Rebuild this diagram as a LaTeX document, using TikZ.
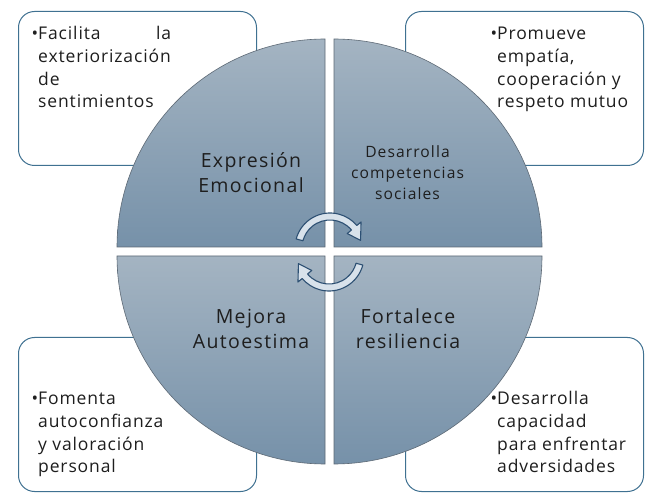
\documentclass[tikz,border=0pt]{standalone}
\usepackage{fontspec}
\setmainfont{Open Sans}[LetterSpace=5]
\newfontfamily\labfont{Open Sans}[LetterSpace=7]
\definecolor{boxline}{HTML}{3F7191}
\definecolor{quadtop}{HTML}{A4B4C2}
\definecolor{quadbot}{HTML}{7691A9}
\definecolor{quadline}{HTML}{5D6975}
\definecolor{arrline}{HTML}{2D5073}
\definecolor{arrfill}{HTML}{D8E2EB}
\definecolor{txt}{HTML}{1E1E1E}
\begin{document}
\begin{tikzpicture}[x=1pt,y=1pt,
  infobox/.style={draw=boxline, fill=white, line width=1pt, rounded corners=16pt,
    minimum width=238pt, minimum height=154pt, anchor=south west, inner sep=0pt},
  quadsty/.style={draw=quadline, line width=0.6pt, top color=quadtop, bottom color=quadbot},
  cyc/.style={draw=arrline, line width=1.1pt, fill=arrfill, line join=round},
  boxtext/.style={anchor=base west, inner sep=0pt, text=txt, font=\fontsize{17.5}{22.6}\selectfont},
  qlabel/.style={anchor=base, inner sep=0pt, text=txt, font=\labfont\fontsize{19.5}{25}\selectfont}
]
\useasboundingbox (0,0) rectangle (672,501);
\fill[white] (0,0) rectangle (672,501);
% boxes
\node[infobox] (b1) at (18,335) {};
\node[infobox] (b2) at (405,335) {};
\node[infobox] (b3) at (18,9) {};
\node[infobox] (b4) at (405,9) {};
% quadrants
\path[quadsty] (325,254) -- (117,254) arc[start angle=180,end angle=90,radius=208] -- cycle;
\path[quadsty] (334,254) -- (334,462) arc[start angle=90,end angle=0,radius=208] -- cycle;
\path[quadsty] (325,245) -- (117,245) arc[start angle=180,end angle=270,radius=208] -- cycle;
\path[quadsty] (334,245) -- (542,245) arc[start angle=0,end angle=-90,radius=208] -- cycle;
% cycle arrows
\path[cyc, shift={(330,253)}] (165:35) arc[start angle=165,end angle=40,radius=35]
  -- (40:40.5) -- (14:31.5) -- (40:22.5) -- (40:28) arc[start angle=40,end angle=165,radius=28] -- cycle;
\path[cyc, shift={(329,245)}, rotate=180] (165:35) arc[start angle=165,end angle=40,radius=35]
  -- (40:40.5) -- (14:31.5) -- (40:22.5) -- (40:28) arc[start angle=40,end angle=165,radius=28] -- cycle;
% box texts
\node[boxtext] (t1) at (38,461) {\parbox[t]{133pt}{\raggedright\leavevmode\llap{•}Facilita\hfill la\\exteriorización\\de\\sentimientos}};
\node[boxtext] (t2) at (497,461) {\parbox[t]{150pt}{\raggedright\leavevmode\llap{•}Promueve\\empatía,\\cooperación y\\respeto mutuo}};
\node[boxtext] (t3) at (38,96) {\parbox[t]{150pt}{\raggedright\leavevmode\llap{•}Fomenta\\autoconfianza\\y valoración\\personal}};
\node[boxtext] (t4) at (497,96) {\parbox[t]{150pt}{\raggedright\leavevmode\llap{•}Desarrolla\\capacidad\\para enfrentar\\adversidades}};
% quadrant labels
\node[qlabel] (q1) at (251,333) {\parbox[t]{180pt}{\centering Expresión\\Emocional}};
\node[qlabel, font=\labfont\fontsize{15.6}{21}\selectfont] (q2) at (407.5,343) {\parbox[t]{180pt}{\centering Desarrolla\\competencias\\sociales}};
\node[qlabel] (q3) at (251,177) {\parbox[t]{180pt}{\centering Mejora\\Autoestima}};
\node[qlabel] (q4) at (408,177) {\parbox[t]{180pt}{\centering Fortalece\\resiliencia}};
\end{tikzpicture}
\end{document}
